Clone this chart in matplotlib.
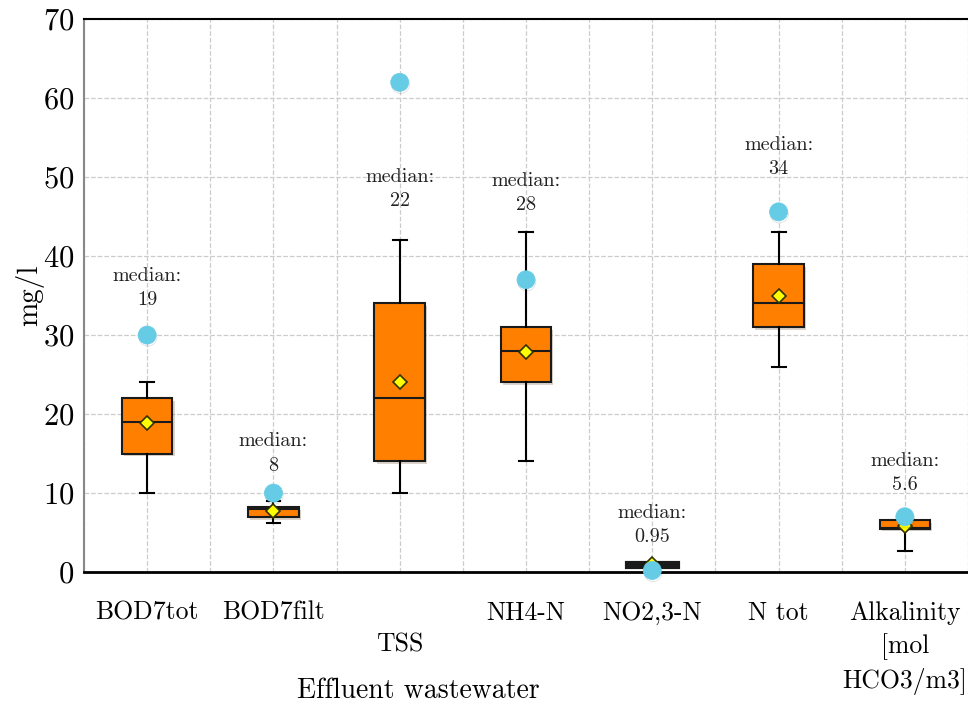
import matplotlib
matplotlib.use("Agg")
import matplotlib.pyplot as plt
import matplotlib.patheffects as pe
import numpy as np

plt.rcParams['font.family'] = ['cmr10', 'DejaVu Serif']
plt.rcParams['axes.formatter.use_mathtext'] = True

# effluent wastewater statistics
categories = ['BOD7tot', 'BOD7filt', '\nTSS', 'NH4-N', 'NO2,3-N', 'N tot',
              'Alkalinity\n[mol\nHCO3/m3]']
whislo = [10, 6.2, 10, 14, 0.7, 26, 2.7]
q1 = [15, 7.0, 14, 24, 0.7, 31, 5.5]
med = [19, 8, 22, 28, 0.95, 34, 5.6]
q3 = [22, 8.2, 34, 31, 1.1, 39, 6.6]
whishi = [24, 9, 42, 43, 1.1, 43, 6.6]
means = [18.9, 7.7, 24, 27.9, 1.0, 35, 5.8]
maxima = [30, 10, 62, 37, 0.2, 45.6, 7.0]
median_text = ['19', '8', '22', '28', '0.95', '34', '5.6']
label_y = [36, 15, 48.5, 48, 6, 52.5, 12.5]

stats = []
for i in range(len(categories)):
    stats.append({
        'med': med[i], 'q1': q1[i], 'q3': q3[i],
        'whislo': whislo[i], 'whishi': whishi[i],
        'mean': means[i], 'fliers': [maxima[i]],
    })

fig = plt.figure(figsize=(9.68, 7.08), dpi=100)
ax = fig.add_axes([0.0868, 0.192, 0.9132, 0.781])

x = np.arange(len(categories))
shadow = [pe.SimplePatchShadow(offset=(1.5, -2), alpha=0.2), pe.Normal()]
line_shadow = [pe.SimpleLineShadow(offset=(0.5, -1.5), alpha=0.15), pe.Normal()]

art = ax.bxp(stats, positions=x, widths=0.4, patch_artist=True,
             showmeans=True, showfliers=True,
             boxprops=dict(facecolor='#FF7F00', edgecolor='#1a1a1a', linewidth=1.5),
             medianprops=dict(color='#1a1a1a', linewidth=1.5),
             whiskerprops=dict(color='black', linewidth=1.5),
             capprops=dict(color='black', linewidth=1.5),
             capwidths=0.11,
             meanprops=dict(marker='D', markersize=7, markerfacecolor='#FFFF00',
                            markeredgecolor='#333300', markeredgewidth=1.2),
             flierprops=dict(marker='o', markersize=13, markerfacecolor='#66CCE6',
                             markeredgecolor='#66CCE6', markeredgewidth=0.5))

for b in art['boxes']:
    b.set_path_effects(shadow)
for m in art['means']:
    m.set_zorder(5)
for f in art['fliers']:
    f.set_path_effects(line_shadow)
    f.set_zorder(6)
    f.set_clip_on(False)

# NO2,3-N box is drawn as a thick dark bar
art['boxes'][4].set_linewidth(3)
art['boxes'][4].set_facecolor('#1a1a1a')

for xi, yi, t in zip(x, label_y, median_text):
    ax.text(xi, yi, 'median:\n' + t, ha='center', va='center', fontsize=14.5,
            linespacing=1.45, color='#222222')

ax.set_xlim(-0.5, 6.5)
ax.set_ylim(0, 70)
ax.set_yticks(np.arange(0, 71, 10))
ax.set_xticks(x)
ax.set_xticklabels(categories, fontsize=18.5, linespacing=1.4)
ax.set_xticks(np.arange(-0.5, 6.6, 0.5), minor=True)
ax.tick_params(axis='both', which='both', length=0)
ax.tick_params(axis='x', pad=21)
ax.tick_params(axis='y', labelsize=22, pad=7)

ax.grid(True, which='minor', axis='x', color='#cccccc', linestyle='--', linewidth=0.9)
ax.grid(True, which='major', axis='x', color='#cccccc', linestyle='--', linewidth=0.9)
ax.grid(True, which='major', axis='y', color='#cccccc', linestyle='--', linewidth=0.9)
ax.set_axisbelow(True)

ax.spines['right'].set_visible(False)
ax.spines['left'].set_color('#888888')
ax.spines['left'].set_linewidth(1.5)
ax.spines['top'].set_linewidth(1.5)
ax.spines['bottom'].set_linewidth(2)

ax.set_ylabel('mg/l', fontsize=21)
ax.yaxis.set_label_coords(-0.045, 0.5)
ax.text(0.378, -0.215, 'Effluent wastewater', transform=ax.transAxes,
        ha='center', va='center', fontsize=20)

fig.savefig('out.png', dpi=100)
